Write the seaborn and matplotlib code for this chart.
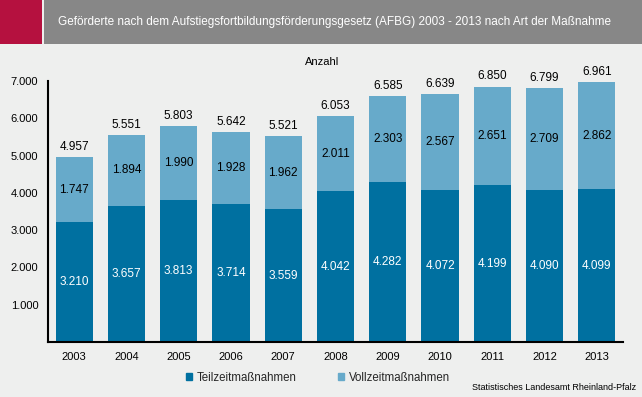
import matplotlib
matplotlib.use("Agg")
import matplotlib.pyplot as plt
import matplotlib.patches as mpatches
import numpy as np
import pandas as pd
import seaborn as sns

# Daten aus der Grafik
jahre = ["2003", "2004", "2005", "2006", "2007", "2008", "2009", "2010", "2011", "2012", "2013"]
teilzeit = [3210, 3657, 3813, 3714, 3559, 4042, 4282, 4072, 4199, 4090, 4099]
vollzeit = [1747, 1894, 1990, 1928, 1962, 2011, 2303, 2567, 2651, 2709, 2862]
y_ticks = [1000, 2000, 3000, 4000, 5000, 6000, 7000]

DUNKEL = "#0070A0"
HELL = "#67AACA"
HINTERGRUND = "#EEEFEE"
KOPF_GRAU = "#878787"
KOPF_ROT = "#B5113F"


def fmt(v):
    return f"{v:,}".replace(",", ".")


sns.set_theme(style="white")
plt.rcParams["font.family"] = ["Liberation Sans", "DejaVu Sans"]

df = pd.DataFrame({"Jahr": jahre, "Teilzeit": teilzeit, "Vollzeit": vollzeit})
df["Gesamt"] = df["Teilzeit"] + df["Vollzeit"]

fig = plt.figure(figsize=(6.42, 3.97), dpi=100, facecolor=HINTERGRUND)

# Kopfzeile
W, H = 642, 397
fig.patches.append(mpatches.Rectangle((0, (H - 44) / H), 42 / W, 44 / H, transform=fig.transFigure,
                                      facecolor=KOPF_ROT, edgecolor="none", zorder=0))
fig.patches.append(mpatches.Rectangle((44 / W, (H - 44) / H), (W - 44) / W, 44 / H, transform=fig.transFigure,
                                      facecolor=KOPF_GRAU, edgecolor="none", zorder=0))
fig.text(58 / W, (H - 22) / H,
         "Geförderte nach dem Aufstiegsfortbildungsförderungsgesetz (AFBG) 2003 - 2013 nach Art der Maßnahme",
         color="white", fontsize=8.45, va="center", ha="left")

ax = fig.add_axes([48 / W, (H - 342) / H, (623 - 48) / W, (342 - 81) / H])
ax.set_facecolor(HINTERGRUND)

# gestapelte Balken: Gesamt (hell) hinten, Teilzeit (dunkel) vorne
sns.barplot(data=df, x="Jahr", y="Gesamt", color=HELL, width=0.71, saturation=1, linewidth=0, ax=ax)
sns.barplot(data=df, x="Jahr", y="Teilzeit", color=DUNKEL, width=0.71, saturation=1, linewidth=0, ax=ax)

for i, (t, v) in enumerate(zip(teilzeit, vollzeit)):
    ax.text(i, t / 2, fmt(t), ha="center", va="center", color="white", fontsize=8.5)
    ax.text(i, t + v / 2, fmt(v), ha="center", va="center", color="black", fontsize=8.5)
    ax.text(i, t + v + 110, fmt(t + v), ha="center", va="bottom", color="black", fontsize=8.5)

ax.set_ylim(0, 7000)
ax.set_xlim(-0.5, len(jahre) - 0.5)
ax.set_yticks([0] + y_ticks)
ax.set_yticklabels([""] + [fmt(v) for v in y_ticks], fontsize=8)
ax.set_xticks(range(len(jahre)))
ax.set_xticklabels(jahre, fontsize=8)
ax.set_xticks(np.arange(-0.5, len(jahre), 1), minor=True)
ax.tick_params(axis="x", which="major", length=0, pad=7, colors="black")
ax.tick_params(axis="x", which="minor", length=4, width=1.2, direction="out", color="black")
ax.tick_params(axis="y", length=4, width=1.2, direction="out", color="black", labelcolor="black", pad=3)
ax.set_xlabel("")
ax.set_ylabel("")
sns.despine(ax=ax)
for s in ("left", "bottom"):
    ax.spines[s].set_color("black")
    ax.spines[s].set_linewidth(1.5)

fig.text(322 / W, (H - 62) / H, "Anzahl", fontsize=8, ha="center", va="center", color="black")

handles = [mpatches.Patch(color=DUNKEL, label="Teilzeitmaßnahmen"),
           mpatches.Patch(color=HELL, label="Vollzeitmaßnahmen")]
fig.legend(handles=handles, loc="center", bbox_to_anchor=(318 / W, (H - 378) / H), ncol=2,
           frameon=False, fontsize=8.3, handlelength=0.55, handleheight=0.55,
           handletextpad=0.4, columnspacing=3.6)

fig.text(636 / W, (H - 387) / H, "Statistisches Landesamt Rheinland-Pfalz", fontsize=6.5,
         ha="right", va="center", color="black")

fig.savefig("out.png", dpi=100, facecolor=HINTERGRUND)
